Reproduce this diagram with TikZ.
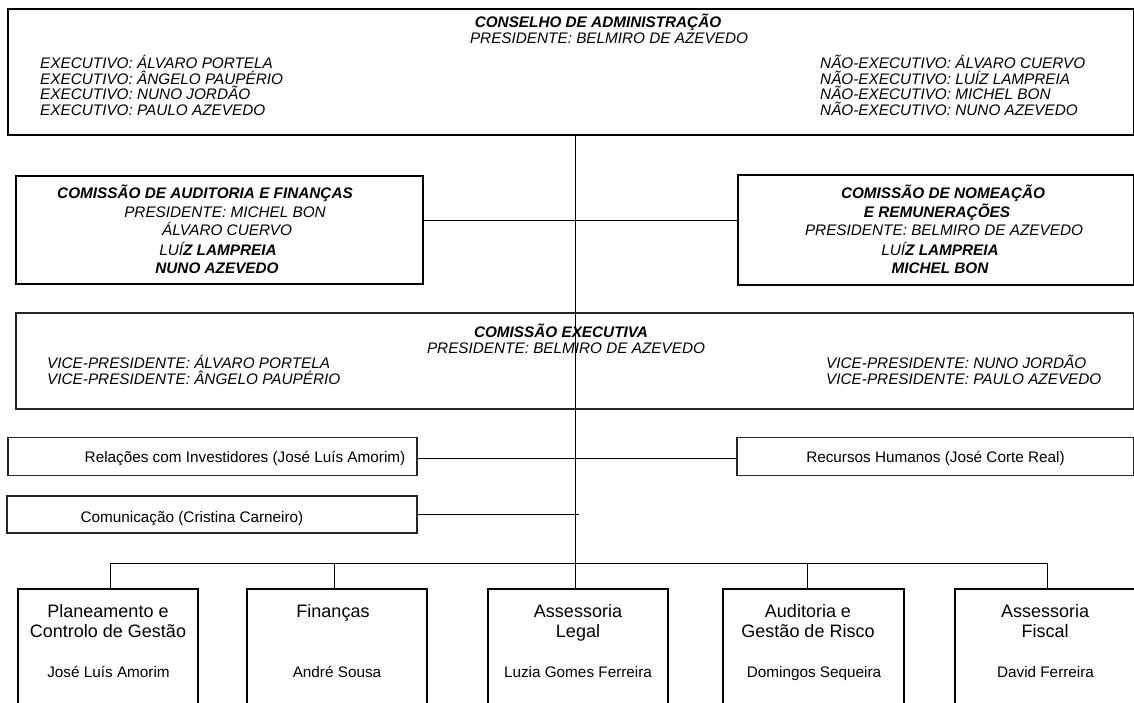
\documentclass[tikz,border=0pt]{standalone}
\usepackage{fontspec}
\setmainfont{Liberation Sans}
\begin{document}
\begin{tikzpicture}[x=1pt,y=-1pt,
  thickbox/.style={draw=black,line width=2.2pt,inner sep=0pt,minimum width=#1},
  midbox/.style={draw=black!85,line width=1.4pt,inner sep=0pt},
  botbox/.style={draw=black,line width=2.4pt,inner sep=0pt,minimum width=180pt,minimum height=131pt},
  conn/.style={draw=black,line width=1pt},
  txi/.style={font=\fontsize{15.3}{15.7}\selectfont\itshape,anchor=base,inner sep=0pt},
  txb/.style={font=\fontsize{15.3}{15.7}\selectfont\bfseries\itshape,anchor=base,inner sep=0pt},
  txr/.style={font=\fontsize{15.3}{16}\selectfont,anchor=base,inner sep=0pt},
  txt/.style={font=\fontsize{18}{20}\selectfont,anchor=base,inner sep=0pt}
]
\useasboundingbox (0,0) rectangle (1134,703);

% ---- Conselho de Administracao
\node[thickbox=1126pt,minimum height=126pt] (cons) at (571,72) {};
\node[txb] (consT) at (598,27.8) {CONSELHO DE ADMINISTRAÇÃO};
\node[txi] (consP) at (609,43.6) {PRESIDENTE: BELMIRO DE AZEVEDO};
\node[txi,anchor=base west] (e1) at (40,68.8) {EXECUTIVO: ÁLVARO PORTELA};
\node[txi,anchor=base west] (e2) at (40,84.5) {EXECUTIVO: ÂNGELO PAUPÉRIO};
\node[txi,anchor=base west] (e3) at (40,99.8) {EXECUTIVO: NUNO JORDÃO};
\node[txi,anchor=base west] (e4) at (40,115.5) {EXECUTIVO: PAULO AZEVEDO};
\node[txi,anchor=base west] (n1) at (820,68.8) {NÃO-EXECUTIVO: ÁLVARO CUERVO};
\node[txi,anchor=base west] (n2) at (820,84.5) {NÃO-EXECUTIVO: LUÍZ LAMPREIA};
\node[txi,anchor=base west] (n3) at (820,99.8) {NÃO-EXECUTIVO: MICHEL BON};
\node[txi,anchor=base west] (n4) at (820,115.5) {NÃO-EXECUTIVO: NUNO AZEVEDO};

% ---- Comissoes
\node[thickbox=407pt,minimum height=108pt,line width=2pt] (aud) at (219.5,230) {};
\node[txb] (audT) at (205,198.5) {COMISSÃO DE AUDITORIA E FINANÇAS};
\node[txi] (audP) at (225,217.5) {PRESIDENTE: MICHEL BON};
\node[txi] (aud1) at (227,235.5) {ÁLVARO CUERVO};
\node[txb] (aud2) at (218,255.5) {{\mdseries LUÍ}Z LAMPREIA};
\node[txb] (aud3) at (217,273.5) {NUNO AZEVEDO};

\node[thickbox=396pt,minimum height=110pt,line width=2pt] (nom) at (936,230) {};
\node[txb] (nomT) at (943,198.5) {COMISSÃO DE NOMEAÇÃO};
\node[txb] (nomT2) at (937,217.5) {E REMUNERAÇÕES};
\node[txi] (nomP) at (944,235.5) {PRESIDENTE: BELMIRO DE AZEVEDO};
\node[txb] (nom1) at (940,255.5) {{\mdseries LUÍ}Z LAMPREIA};
\node[txb] (nom2) at (940,273.5) {MICHEL BON};

% ---- Comissao Executiva
\node[midbox,minimum width=1118pt,minimum height=96pt] (exe) at (575,361) {};
\node[txb] (exeT) at (561,337.2) {COMISSÃO EXECUTIVA};
\node[txi] (exeP) at (566,353) {PRESIDENTE: BELMIRO DE AZEVEDO};
\node[txi,anchor=base west] (v1) at (47,368.8) {VICE-PRESIDENTE: ÁLVARO PORTELA};
\node[txi,anchor=base west] (v2) at (47,384) {VICE-PRESIDENTE: ÂNGELO PAUPÉRIO};
\node[txi,anchor=base west] (v3) at (826,368.8) {VICE-PRESIDENTE: NUNO JORDÃO};
\node[txi,anchor=base west] (v4) at (826,384) {VICE-PRESIDENTE: PAULO AZEVEDO};

% ---- staff boxes
\node[midbox,minimum width=409pt,minimum height=38.5pt] (rel) at (212.5,456.5) {};
\node[txr] (relT) at (245,462.5) {Relações com Investidores (José Luís Amorim)};
\node[midbox,minimum width=397pt,minimum height=38.5pt] (rh) at (935.5,456.5) {};
\node[txr] (rhT) at (935.5,462.5) {Recursos Humanos (José Corte Real)};
\node[midbox,minimum width=410pt,minimum height=37pt] (com) at (212,514.5) {};
\node[txr] (comT) at (192,522.2) {Comunicação (Cristina Carneiro)};

% ---- bottom boxes
\node[botbox] (b1) at (108,654.5) {};
\node[botbox] (b2) at (337,654.5) {};
\node[botbox] (b3) at (578,654.5) {};
\node[botbox,minimum width=181pt] (b4) at (813.5,654.5) {};
\node[botbox,minimum width=184pt] (b5) at (1047,654.5) {};

\node[txt] (b1a) at (108,617) {Planeamento e};
\node[txt] (b1b) at (108,637.5) {Controlo de Gestão};
\node[txr] (b1c) at (108.5,677.5) {José Luís Amorim};
\node[txt] (b2a) at (333,617) {Finanças};
\node[txr] (b2c) at (337,677.5) {André Sousa};
\node[txt] (b3a) at (578,617) {Assessoria};
\node[txt] (b3b) at (578,637.5) {Legal};
\node[txr] (b3c) at (578,677.5) {Luzia Gomes Ferreira};
\node[txt] (b4a) at (808,617) {Auditoria e};
\node[txt] (b4b) at (808,637.5) {Gestão de Risco};
\node[txr] (b4c) at (814,677.5) {Domingos Sequeira};
\node[txt] (b5a) at (1045,617) {Assessoria};
\node[txt] (b5b) at (1045,637.5) {Fiscal};
\node[txr] (b5c) at (1045.5,677.5) {David Ferreira};

% ---- connectors
\coordinate (trunk) at (575.5,0);
\coordinate (cy) at (0,220.7);
\coordinate (ry) at (0,458.7);
\coordinate (stub) at (579,514);
\coordinate (d1) at (110,563);
\coordinate (d2) at (334,563);
\coordinate (d4) at (807,563);
\coordinate (d5) at (1047,563);

\draw[conn] (trunk |- cons.south) -- (trunk |- b3.north);
\draw[conn] (aud.east |- cy) -- (nom.west |- cy);
\draw[conn] (rel.east |- ry) -- (rh.west |- ry);
\draw[conn] (com.east |- stub) -- (stub);
\draw[conn] (d1) -- (d5);
\draw[conn] (d1) -- (d1 |- b1.north);
\draw[conn] (d2) -- (d2 |- b2.north);
\draw[conn] (d4) -- (d4 |- b4.north);
\draw[conn] (d5) -- (d5 |- b5.north);
\end{tikzpicture}
\end{document}
